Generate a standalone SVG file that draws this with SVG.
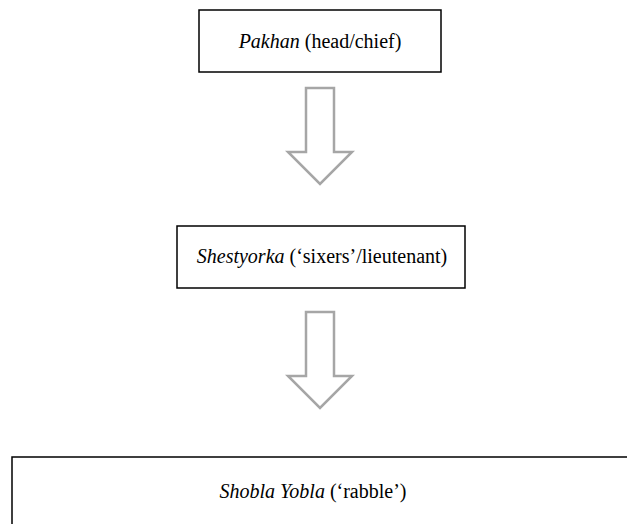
<svg xmlns="http://www.w3.org/2000/svg" width="627" height="524" viewBox="0 0 627 524">
<style>
.box{fill:#fff;stroke:#000;stroke-width:1.5}
.lbl{font-family:"Liberation Serif","Times New Roman",serif;font-size:20px;fill:#000;text-anchor:middle}
.it{font-style:italic}
.arr{fill:#fff;stroke:#a6a6a6;stroke-width:2.5;stroke-linejoin:miter}
</style>
<rect width="627" height="524" fill="#fff"/>
<g id="pakhan">
<rect class="box" x="199" y="10" width="242" height="62"/>
<text class="lbl" x="320" y="48"><tspan class="it">Pakhan</tspan> (head/chief)</text>
</g>
<g id="shestyorka">
<rect class="box" x="177" y="226" width="288" height="62"/>
<text class="lbl" x="322" y="263"><tspan class="it">Shestyorka</tspan> (‘sixers’/lieutenant)</text>
</g>
<g id="shobla">
<rect class="box" x="12" y="457" width="640" height="100"/>
<text class="lbl" x="313" y="498"><tspan class="it">Shobla Yobla</tspan> (‘rabble’)</text>
</g>
<g id="connectors">
<path class="arr" d="M306,88 H334 V152 H352 L320,184 L288,152 H306 Z"/>
<path class="arr" d="M306,312 H334 V376 H352 L320,408 L288,376 H306 Z"/>
</g>
</svg>
